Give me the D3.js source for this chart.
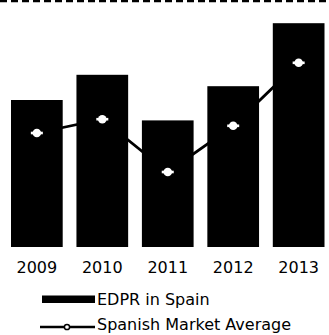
<!DOCTYPE html>
<html>
<head>
<meta charset="utf-8">
<script src="https://cdn.jsdelivr.net/npm/d3@7"></script>
<style>
  html, body { margin: 0; padding: 0; background: #fff; }
  svg { display: block; }
  text { font-family: "DejaVu Sans", Verdana, sans-serif; fill: #000; }
</style>
</head>
<body>
<svg id="chart" width="329" height="335"></svg>
<script>
// Data (relative values)
const years = ["2009", "2010", "2011", "2012", "2013"];
const edprSpain = [24.5, 28.7, 21.1, 26.8, 37.3];
const marketAverage = [19.0, 21.3, 12.5, 20.2, 30.7];
const legendLabels = ["EDPR in Spain", "Spanish Market Average"];

const svg = d3.select("#chart");

const x = d3.scaleBand().domain(years).range([11, 324.5]).paddingInner(0.21).paddingOuter(0);
const y = d3.scaleLinear().domain([0, 40]).range([247, 7]);

// top dashed rule
svg.append("line")
  .attr("x1", 0).attr("x2", 329).attr("y1", 1).attr("y2", 1)
  .attr("stroke", "#000").attr("stroke-width", 2.5)
  .attr("stroke-dasharray", "7,4");

// bars
svg.append("g").selectAll("rect")
  .data(years)
  .join("rect")
  .attr("x", d => x(d))
  .attr("width", x.bandwidth())
  .attr("y", (d, i) => y(edprSpain[i]))
  .attr("height", (d, i) => y(0) - y(edprSpain[i]))
  .attr("fill", "#000");

// line
const line = d3.line()
  .x((d, i) => x(years[i]) + x.bandwidth() / 2)
  .y(d => y(d));
svg.append("path")
  .datum(marketAverage)
  .attr("d", line)
  .attr("fill", "none")
  .attr("stroke", "#000")
  .attr("stroke-width", 2.8);

// markers
const mk = svg.append("g").selectAll("g")
  .data(marketAverage)
  .join("g")
  .attr("transform", (d, i) => `translate(${x(years[i]) + x.bandwidth() / 2},${y(d)})`);
mk.append("rect").attr("x", -6).attr("y", -1.3).attr("width", 12).attr("height", 2.6).attr("fill", "#fff");
mk.append("circle").attr("r", 4.3).attr("fill", "#fff");

// x axis labels
const xAxis = d3.axisBottom(x).tickSize(0).tickPadding(0);
const gx = svg.append("g").attr("transform", "translate(0,259)").call(xAxis);
gx.select(".domain").remove();
gx.selectAll("text")
  .attr("dy", null)
  .attr("y", 14)
  .style("font-family", '"DejaVu Sans", Verdana, sans-serif')
  .style("font-size", "16px")
  .attr("fill", "#000");

// legend
const lg = svg.append("g");
lg.append("rect").attr("x", 42).attr("y", 295.5).attr("width", 53).attr("height", 7.5).attr("fill", "#000");
lg.append("text").attr("x", 97).attr("y", 305).style("font-size", "16px").text(legendLabels[0]);
lg.append("line").attr("x1", 40).attr("x2", 95).attr("y1", 327).attr("y2", 327)
  .attr("stroke", "#000").attr("stroke-width", 2.5);
lg.append("circle").attr("cx", 67).attr("cy", 327).attr("r", 2.6)
  .attr("fill", "#fff").attr("stroke", "#000").attr("stroke-width", 1.5);
lg.append("text").attr("x", 97).attr("y", 329.5).style("font-size", "16px").text(legendLabels[1]);
</script>
</body>
</html>
